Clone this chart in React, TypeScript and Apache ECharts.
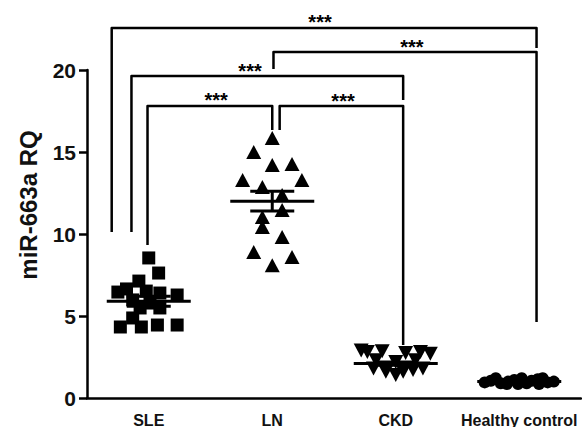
import React, { useEffect, useRef } from "react";
import * as echarts from "echarts";

const categories = ["SLE", "LN", "CKD", "Healthy control"];
const yTickValues = [0, 5, 10, 15, 20];
const yAxisTitle = "miR-663a RQ";

// SLE (squares)
const sleValues = [8.54, 7.62, 7.13, 6.65, 6.46, 6.52, 6.4, 6.28, 5.98, 5.79, 5.49, 5.49, 4.88, 4.33, 4.33, 4.45, 4.45];
const sleJitter = [0, 0.08, -0.08, -0.18, -0.25, -0.02, 0.09, 0.23, -0.13, 0.01, -0.07, 0.09, -0.13, -0.23, -0.06, 0.07, 0.23];
// LN (triangles)
const lnValues = [15.85, 15.0, 14.2, 14.27, 13.3, 13.3, 12.87, 12.38, 11.04, 11.46, 10.43, 9.82, 8.9, 8.6, 8.1];
const lnJitter = [0, -0.15, 0, 0.16, -0.24, 0.24, -0.08, 0.08, -0.08, 0.08, -0.08, 0.08, -0.15, 0.16, 0];
// CKD (inverted triangles)
const ckdValues = [2.9, 2.8, 2.85, 2.75, 2.8, 2.7, 2.3, 2.2, 2.3, 1.8, 1.6, 1.4, 1.6, 1.7, 1.8];
const ckdJitter = [-0.28, -0.23, -0.11, 0.08, 0.2, 0.28, -0.16, 0, 0.16, -0.18, -0.08, 0, 0.06, 0.14, 0.22];
// Healthy control (circles)
const hcValues = [0.95, 1.05, 1.2, 0.9, 1.0, 1.1, 1.2, 0.9, 1.05, 1.15, 1.2, 0.95, 1.0, 0.85, 0.85, 0.85];
const hcJitter = [-0.28, -0.23, -0.19, -0.15, -0.09, -0.04, 0.02, 0.06, 0.1, 0.15, 0.19, 0.23, 0.28, -0.01, -0.1, 0.16];

// Mean ± SEM per group
const groupMeans = [5.9, 12.0, 2.1, 1.0];
const groupSems = [0.3, 0.6, 0.1, 0.03];

// Significance brackets (category / value units)
const bracketLeftX = [-0.3, 1.01, -0.14, -0.01, 1.06];
const bracketRightX = [3.14, 3.14, 2.06, 1.0, 2.06];
const bracketTopY = [22.56, 21.1, 19.63, 17.8, 17.8];
const bracketLeftEnd = [10.12, 20.06, 10.12, 9.33, 16.34];
const bracketRightEnd = [21.34, 4.63, 18.17, 16.34, 3.23];
const bracketLabelX = [1.387, 2.13, 0.82, 0.545, 1.573];
const bracketLabelY = [22.95, 21.43, 19.96, 18.19, 18.13];
const bracketLabels = ["***", "***", "***", "***", "***"];

const FONT = "'Liberation Sans', Arial, sans-serif";

function pts(idx: number, vals: number[], jit: number[]) {
  return vals.map((v, i) => [idx + jit[i], v]);
}

export default function App() {
  const ref = useRef<HTMLDivElement>(null);
  useEffect(() => {
    if (!ref.current) return;
    const chart = echarts.init(ref.current, undefined, { renderer: "svg" });
    const lineStyle = { stroke: "#000", lineWidth: 3 };
    const markStyle = { color: "#000", opacity: 1 };
    const option: any = {
      animation: false,
      backgroundColor: "#fff",
      grid: { left: 87, right: 1, top: 70, bottom: 29, outerBoundsMode: "none" },
      xAxis: [
        {
          type: "category",
          data: categories,
          boundaryGap: true,
          axisLine: { onZero: false, lineStyle: { color: "#000", width: 2.5 } },
          axisTick: { alignWithLabel: true, length: 7, lineStyle: { color: "#000", width: 2.5 } },
          axisLabel: { color: "#111", fontFamily: FONT, fontWeight: "bold", fontSize: 16, margin: 14, interval: 0 },
          splitLine: { show: false },
        },
        { type: "value", min: -0.5, max: 3.5, show: false },
      ],
      yAxis: {
        type: "value",
        min: 0,
        max: 20,
        interval: 5,
        axisLine: { show: true, onZero: false, lineStyle: { color: "#000", width: 2.5 } },
        axisTick: { show: true, length: 8, lineStyle: { color: "#000", width: 2.5 } },
        axisLabel: {
          color: "#111",
          fontFamily: FONT,
          fontWeight: "bold",
          fontSize: 21,
          margin: 11,
          customValues: yTickValues,
        },
        splitLine: { show: false },
      },
      graphic: [
        {
          type: "text",
          x: 28,
          y: 205,
          rotation: Math.PI / 2,
          style: {
            text: yAxisTitle,
            fontFamily: FONT,
            fontWeight: "bold",
            fontSize: 24,
            fill: "#111",
            textAlign: "center",
            textVerticalAlign: "middle",
          },
        },
      ],
      series: [
        {
          type: "scatter",
          xAxisIndex: 1,
          clip: false,
          symbol: "rect",
          symbolSize: 13,
          itemStyle: markStyle,
          data: pts(0, sleValues, sleJitter),
        },
        {
          type: "scatter",
          xAxisIndex: 1,
          clip: false,
          symbol: "triangle",
          symbolSize: [15, 14],
          itemStyle: markStyle,
          data: pts(1, lnValues, lnJitter),
        },
        {
          type: "scatter",
          xAxisIndex: 1,
          clip: false,
          symbol: "triangle",
          symbolRotate: 180,
          symbolSize: [15, 14],
          itemStyle: markStyle,
          data: pts(2, ckdValues, ckdJitter),
        },
        {
          type: "scatter",
          xAxisIndex: 1,
          clip: false,
          symbol: "circle",
          symbolSize: 12,
          itemStyle: markStyle,
          data: pts(3, hcValues, hcJitter),
        },
        {
          type: "custom",
          xAxisIndex: 1,
          z: 5,
          data: groupMeans.map((m, i) => [i, m, groupSems[i]]),
          renderItem: (_p: any, api: any) => {
            const idx = api.value(0);
            const m = api.value(1);
            const s = api.value(2);
            const c = api.coord([idx, m]);
            const hi = api.coord([idx, m + s]);
            const lo = api.coord([idx, m - s]);
            return {
              type: "group",
              children: [
                { type: "line", shape: { x1: c[0] - 42, y1: c[1], x2: c[0] + 42, y2: c[1] }, style: lineStyle },
                { type: "line", shape: { x1: c[0], y1: hi[1], x2: c[0], y2: lo[1] }, style: lineStyle },
                { type: "line", shape: { x1: c[0] - 22, y1: hi[1], x2: c[0] + 22, y2: hi[1] }, style: lineStyle },
                { type: "line", shape: { x1: c[0] - 22, y1: lo[1], x2: c[0] + 22, y2: lo[1] }, style: lineStyle },
              ],
            };
          },
        },
        {
          type: "custom",
          xAxisIndex: 1,
          clip: false,
          z: 6,
          data: bracketLeftX.map((x, i) => [
            x,
            bracketRightX[i],
            bracketTopY[i],
            bracketLeftEnd[i],
            bracketRightEnd[i],
            bracketLabelX[i],
            bracketLabelY[i],
          ]),
          renderItem: (p: any, api: any) => {
            const xl = api.value(0);
            const xr = api.value(1);
            const yt = api.value(2);
            const yl = api.value(3);
            const yr = api.value(4);
            const a = api.coord([xl, yl]);
            const b = api.coord([xl, yt]);
            const c = api.coord([xr, yt]);
            const d = api.coord([xr, yr]);
            const t = api.coord([api.value(5), api.value(6)]);
            return {
              type: "group",
              children: [
                {
                  type: "polyline",
                  shape: { points: [a, b, c, d] },
                  style: { stroke: "#000", lineWidth: 2.5, fill: "none", lineJoin: "round" },
                },
                {
                  type: "text",
                  x: t[0],
                  y: t[1],
                  style: {
                    text: bracketLabels[p.dataIndex],
                    fontFamily: FONT,
                    fontWeight: "bold",
                    fontSize: 20,
                    fill: "#000",
                    textAlign: "center",
                    textVerticalAlign: "middle",
                  },
                },
              ],
            };
          },
        },
      ],
    };
    chart.setOption(option);
    return () => chart.dispose();
  }, []);
  return <div ref={ref} style={{ width: 582, height: 427, position: "absolute", left: 0, top: 0 }} />;
}
